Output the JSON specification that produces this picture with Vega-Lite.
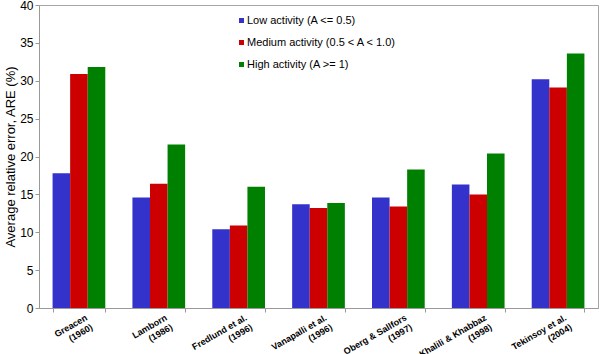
{
  "$schema": "https://vega.github.io/schema/vega-lite/v6.json",
  "width": 559,
  "height": 303,
  "autosize": {"type": "none"},
  "padding": {"left": 39, "top": 5, "right": 2, "bottom": 46},
  "background": "white",
  "config": {
    "font": "Liberation Sans",
    "view": {"stroke": "#a6a6a6", "strokeWidth": 1}
  },
  "data": {
    "values": [
      {"study": "Greacen\n(1960)", "activity": "Low activity (A <= 0.5)", "are": 17.8},
      {"study": "Greacen\n(1960)", "activity": "Medium activity (0.5 < A < 1.0)", "are": 30.9},
      {"study": "Greacen\n(1960)", "activity": "High activity (A >= 1)", "are": 31.8},
      {"study": "Lamborn\n(1986)", "activity": "Low activity (A <= 0.5)", "are": 14.6},
      {"study": "Lamborn\n(1986)", "activity": "Medium activity (0.5 < A < 1.0)", "are": 16.4},
      {"study": "Lamborn\n(1986)", "activity": "High activity (A >= 1)", "are": 21.6},
      {"study": "Fredlund et al.\n(1996)", "activity": "Low activity (A <= 0.5)", "are": 10.4},
      {"study": "Fredlund et al.\n(1996)", "activity": "Medium activity (0.5 < A < 1.0)", "are": 10.9},
      {"study": "Fredlund et al.\n(1996)", "activity": "High activity (A >= 1)", "are": 16.0},
      {"study": "Vanapalli et al.\n(1996)", "activity": "Low activity (A <= 0.5)", "are": 13.7},
      {"study": "Vanapalli et al.\n(1996)", "activity": "Medium activity (0.5 < A < 1.0)", "are": 13.2},
      {"study": "Vanapalli et al.\n(1996)", "activity": "High activity (A >= 1)", "are": 13.85},
      {"study": "Oberg & Sallfors\n(1997)", "activity": "Low activity (A <= 0.5)", "are": 14.6},
      {"study": "Oberg & Sallfors\n(1997)", "activity": "Medium activity (0.5 < A < 1.0)", "are": 13.4},
      {"study": "Oberg & Sallfors\n(1997)", "activity": "High activity (A >= 1)", "are": 18.3},
      {"study": "Khalili & Khabbaz\n(1998)", "activity": "Low activity (A <= 0.5)", "are": 16.3},
      {"study": "Khalili & Khabbaz\n(1998)", "activity": "Medium activity (0.5 < A < 1.0)", "are": 15.0},
      {"study": "Khalili & Khabbaz\n(1998)", "activity": "High activity (A >= 1)", "are": 20.4},
      {"study": "Tekinsoy et al.\n(2004)", "activity": "Low activity (A <= 0.5)", "are": 30.2},
      {"study": "Tekinsoy et al.\n(2004)", "activity": "Medium activity (0.5 < A < 1.0)", "are": 29.1},
      {"study": "Tekinsoy et al.\n(2004)", "activity": "High activity (A >= 1)", "are": 33.6}
    ]
  },
  "mark": {"type": "bar"},
  "encoding": {
    "x": {
      "field": "study",
      "type": "nominal",
      "sort": null,
      "scale": {"paddingInner": 0.34, "paddingOuter": 0.17},
      "axis": {
        "title": null,
        "labelExpr": "[split(datum.label + '', '\\n')[0], split(datum.label + '\\n', '\\n')[1] + slice('\\u00a0\\u00a0\\u00a0\\u00a0\\u00a0\\u00a0\\u00a0\\u00a0\\u00a0\\u00a0\\u00a0\\u00a0\\u00a0\\u00a0', 0, max(0, round(0.8 * (2 * indexof(datum.label + '', '\\n') - lastindexof(datum.label + '', ')')))))]",
        "labelAngle": -30,
        "labelAlign": "right",
        "labelBaseline": "top",
        "labelFontSize": 9,
        "labelFontWeight": "bold",
        "labelColor": "#000000",
        "labelOffset": 5,
        "labelPadding": 1,
        "labelLineHeight": 11,
        "tickBand": "extent",
        "tickSize": 4,
        "tickColor": "#999999",
        "domainColor": "#999999",
        "labelOverlap": false,
        "labelLimit": 0
      }
    },
    "xOffset": {"field": "activity", "type": "nominal", "sort": null, "scale": {"paddingInner": 0, "paddingOuter": 0}},
    "y": {
      "field": "are",
      "type": "quantitative",
      "scale": {"domain": [0, 40]},
      "axis": {
        "title": "Average relative error, ARE (%)",
        "titleFontSize": 13,
        "titleFontWeight": "normal",
        "titleColor": "#000000",
        "titlePadding": 2,
        "values": [0, 5, 10, 15, 20, 25, 30, 35, 40],
        "labelFontSize": 12,
        "labelColor": "#000000",
        "grid": false,
        "tickSize": 4,
        "tickColor": "#999999",
        "domainColor": "#999999"
      }
    },
    "color": {
      "field": "activity",
      "type": "nominal",
      "sort": null,
      "scale": {"range": ["#3333cc", "#cc0000", "#008000"]},
      "legend": {
        "title": null,
        "orient": "none",
        "legendX": 197,
        "legendY": 10,
        "symbolType": "square",
        "symbolSize": 25,
        "symbolStrokeWidth": 0,
        "labelFontSize": 11,
        "labelColor": "#000000",
        "labelOffset": 0,
        "rowPadding": 10,
        "labelLimit": 0
      }
    }
  }
}
